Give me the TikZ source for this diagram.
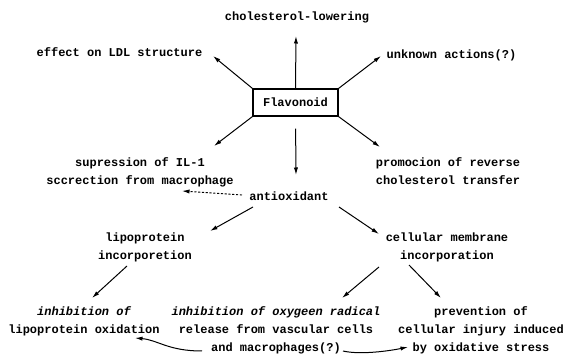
\documentclass[tikz,border=0pt]{standalone}
\usepackage{fontspec}
\setmonofont{Liberation Mono}
\usepackage{tikz}
\usetikzlibrary{arrows.meta}
\tikzstyle{compound} = [draw, line width=1.2pt, rectangle,
    minimum width=85pt, minimum height=27pt, inner sep=0pt]
\tikzstyle{effect} = [align=center, inner sep=1pt]
\tikzstyle{link} = [->, line width=1pt]
\tikzstyle{hint} = [->, line width=0.9pt, dash pattern=on 2.2pt off 1.6pt]

\begin{document}
\begin{tikzpicture}[x=1pt, y=-1pt, >={Latex[length=7.5pt,width=4.2pt]},
    font=\ttfamily\bfseries\fontsize{12}{18}\selectfont]
    \useasboundingbox (0,0) rectangle (574,358);
    % We start by placing the flavonoid and its effects
    \node [compound] (flav) at (295.5,102.5) {Flavonoid};
    \node [effect] (chol) at (297,17) {cholesterol-lowering};
    \node [effect] (ldl) at (119.5,52) {effect on LDL structure};
    \node [effect] (unknown) at (451.5,55) {unknown actions(?)};
    \node [effect] (supr) at (140,172) {supression of IL-1\\sccrection from macrophage};
    \node [effect] (promo) at (448,171) {promocion of reverse\\cholesterol transfer};
    \node [effect] (antiox) at (289,196) {antioxidant};
    \node [effect] (lipo) at (145,247) {lipoprotein\\incorporetion};
    \node [effect] (cell) at (447,247) {cellular membrane\\incorporation};
    \node [effect] (inhib) at (84,321) {{\itshape inhibition of}\\lipoprotein oxidation};
    \node [effect] (oxy) at (276,330) {{\itshape inhibition of oxygeen radical}\\release from vascular cells\\and macrophages(?)};
    \node [effect] (prev) at (481,330) {prevention of\\cellular injury induced\\by oxidative stress};
    % Arrows leaving the flavonoid box
    \draw [link] (flav.north) -- ([shift={(-1,19)}]chol.center);
    \draw [link] (flav.north west) -- ([shift={(93.5,4)}]ldl.center);
    \draw [link] (flav.north east) -- ([shift={(-70.5,1)}]unknown.center);
    \draw [link] (flav.south west) -- ([shift={(74,-26)}]supr.center);
    \draw [link, shorten <=12pt] (flav.south) -- ([shift={(7,-21)}]antiox.center);
    \draw [link] (flav.south east) -- ([shift={(-68,-24)}]promo.center);
    % Antioxidant branch
    \draw [hint] ([shift={(-47,-1)}]antiox.center) -- ([shift={(42,19)}]supr.center);
    \draw [link] ([shift={(-36,11)}]antiox.center) -- ([shift={(65,-16)}]lipo.center);
    \draw [link] ([shift={(50,11)}]antiox.center) -- ([shift={(-68,-13)}]cell.center);
    \draw [link] ([shift={(-18,19)}]lipo.center) -- ([shift={(8,-23)}]inhib.center);
    \draw [link] ([shift={(-68,20)}]cell.center) -- ([shift={(66,-32)}]oxy.center);
    \draw [link] ([shift={(-38,18)}]cell.center) -- ([shift={(-40,-32)}]prev.center);
    % Curved links between the outcomes
    \draw [link] ([shift={(-74,21)}]oxy.center) .. controls ([shift={(-108,21)}]oxy.center)
        and ([shift={(74,19)}]inhib.center) .. ([shift={(51,17)}]inhib.center);
    \draw [link] ([shift={(67,21)}]oxy.center) .. controls ([shift={(84,25)}]oxy.center)
        and ([shift={(-92,21)}]prev.center) .. ([shift={(-73,17)}]prev.center);
\end{tikzpicture}
\end{document}
